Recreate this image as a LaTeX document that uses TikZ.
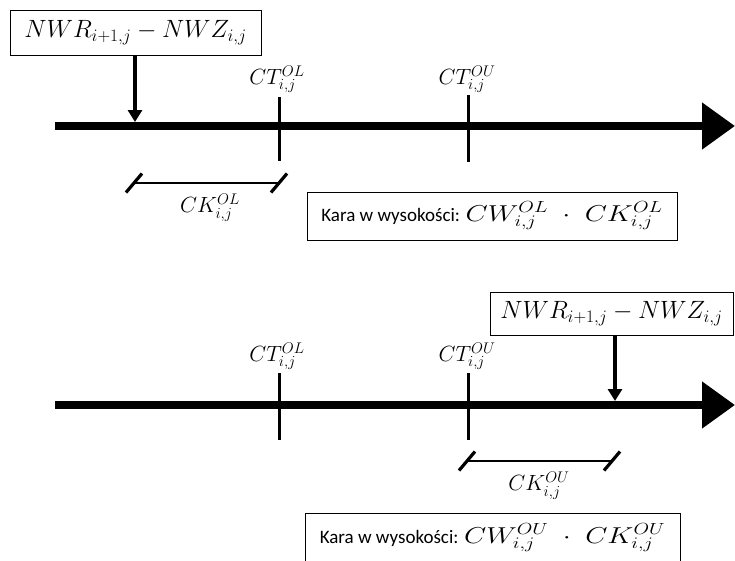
\RequirePackage{fix-cm}
\documentclass[tikz,border=0pt]{standalone}
\usepackage[no-math]{fontspec}
\setmainfont{Carlito}
\usetikzlibrary{arrows.meta}

% penalty formula inside the text boxes: a little wider set than plain math
\newcommand{\boxmath}[1]{{\fontsize{23}{27}\selectfont\scalebox{1.25}[1]{$#1$}}}

\begin{document}
\begin{tikzpicture}[x=1pt,y=-1pt,
  axisline/.style={line width=8pt,-{Triangle[length=33pt,width=45pt]}},
  tickline/.style={line width=3pt},
  pointer/.style={line width=4.5pt,-{Triangle[length=12pt,width=14pt]}},
  span/.style={line width=2.6pt},
  slash/.style={line width=3.2pt},
  valbox/.style={draw,line width=0.9pt,inner sep=0pt},
  dlabel/.style={inner sep=0pt,font=\fontsize{25}{30}\selectfont},
  mlabel/.style={inner sep=0pt,font=\fontsize{22}{26}\selectfont},
  txt/.style={font=\fontsize{19}{22}\selectfont}
]
\useasboundingbox (0,0) rectangle (735,560);

% ---------- upper case: value below the lower bound ----------
\node[valbox,dlabel,minimum width=251pt,minimum height=45pt] (d1) at (135.5,32.5)
  {$NWR_{i+1,j}-NWZ_{i,j}$};
\coordinate (a1s) at (55,126);
\coordinate (a1e) at (735,126);
\draw[axisline] (a1s) -- (a1e);

\coordinate (t1a) at (279,97);  \coordinate (t1b) at (279,161);
\coordinate (t2a) at (468,95);  \coordinate (t2b) at (468,162);
\draw[tickline] (t1a) -- (t1b);
\draw[tickline] (t2a) -- (t2b);
\node[mlabel,anchor=south] (ol1) at (277,93) {$CT_{i,j}^{OL}$};
\node[mlabel,anchor=south] (ou1) at (467,93) {$CT_{i,j}^{OU}$};

\coordinate (p1) at (135,122);
\draw[pointer] (d1.south -| p1) -- (p1);

\coordinate (k1a) at (134,183); \coordinate (k1b) at (279,183);
\draw[span] (k1a) -- (k1b);
\draw[slash] ([shift={(-8,9.5)}]k1a) -- ([shift={(8,-9.5)}]k1a);
\draw[slash] ([shift={(-8,9.5)}]k1b) -- ([shift={(8,-9.5)}]k1b);
\node[mlabel,anchor=north] (ck1) at (210,194) {$CK_{i,j}^{OL}$};

\node[valbox,txt,minimum width=370pt,minimum height=48pt] (c1) at (492,216)
  {Kara w wysokości: \boxmath{CW_{i,j}^{OL}\;\cdot\;CK_{i,j}^{OL}}};

% ---------- lower case: value above the upper bound ----------
\node[valbox,dlabel,minimum width=243pt,minimum height=43pt] (d2) at (611.5,313.5)
  {$NWR_{i+1,j}-NWZ_{i,j}$};
\coordinate (a2s) at (55,405);
\coordinate (a2e) at (735,405);
\draw[axisline] (a2s) -- (a2e);

\coordinate (t3a) at (279,373); \coordinate (t3b) at (279,440);
\coordinate (t4a) at (468,373); \coordinate (t4b) at (468,440);
\draw[tickline] (t3a) -- (t3b);
\draw[tickline] (t4a) -- (t4b);
\node[mlabel,anchor=south] (ol2) at (277,370) {$CT_{i,j}^{OL}$};
\node[mlabel,anchor=south] (ou2) at (467,370) {$CT_{i,j}^{OU}$};

\coordinate (p2) at (615,401);
\draw[pointer] (d2.south -| p2) -- (p2);

\coordinate (k2a) at (467,461); \coordinate (k2b) at (612,461);
\draw[span] (k2a) -- (k2b);
\draw[slash] ([shift={(-8,9.5)}]k2a) -- ([shift={(8,-9.5)}]k2a);
\draw[slash] ([shift={(-8,9.5)}]k2b) -- ([shift={(8,-9.5)}]k2b);
\node[mlabel,anchor=north] (ck2) at (539,472) {$CK_{i,j}^{OU}$};

\node[valbox,txt,minimum width=375pt,minimum height=50pt] (c2) at (492.5,538)
  {Kara w wysokości: \boxmath{CW_{i,j}^{OU}\;\cdot\;CK_{i,j}^{OU}}};
\end{tikzpicture}
\end{document}
